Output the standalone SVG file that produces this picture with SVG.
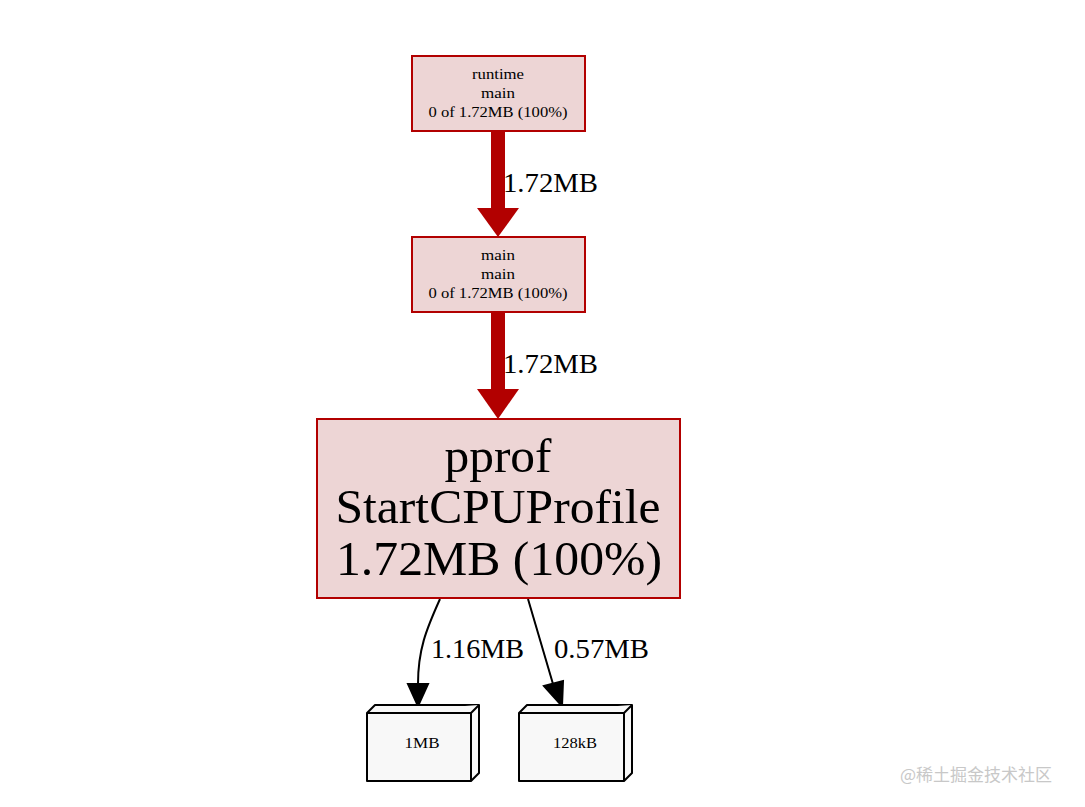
<svg xmlns="http://www.w3.org/2000/svg" width="1085" height="807" viewBox="0 0 1085 807">
<style>
.n{fill:#edd5d5;stroke:#b20000;stroke-width:2}
.t{font-family:"Liberation Serif",serif;text-anchor:middle;fill:#000}
.s{font-size:15px}
.g{font-size:48px}
.l{font-family:"Liberation Serif",serif;font-size:27px;fill:#000}
.b{fill:#f8f8f8;stroke:#000;stroke-width:2;stroke-linejoin:round}
</style>
<rect width="1085" height="807" fill="#fff"/>
<g id="connectors">
  <g id="e1">
    <line x1="498" y1="131" x2="498" y2="210" stroke="#b20000" stroke-width="14"/>
    <polygon points="477,208 519,208 498,237" fill="#b20000"/>
    <text class="l" x="503" y="192" textLength="95" lengthAdjust="spacingAndGlyphs">1.72MB</text>
  </g>
  <g id="e2">
    <line x1="498" y1="312" x2="498" y2="391" stroke="#b20000" stroke-width="14"/>
    <polygon points="477,389 519,389 498,419" fill="#b20000"/>
    <text class="l" x="503" y="373" textLength="95" lengthAdjust="spacingAndGlyphs">1.72MB</text>
  </g>
  <g id="e3">
    <path d="M440,599 C426,630 418,650 418,684" fill="none" stroke="#000" stroke-width="2"/>
    <polygon points="408,684 428,684 418,706" fill="#000" stroke="#000" stroke-width="2"/>
    <text class="l" x="431" y="658" textLength="93" lengthAdjust="spacingAndGlyphs">1.16MB</text>
  </g>
  <g id="e4">
    <path d="M528,599 L553,684" fill="none" stroke="#000" stroke-width="2"/>
    <polygon points="544,686 563,681 562,706" fill="#000" stroke="#000" stroke-width="2"/>
    <text class="l" x="554" y="658" textLength="95" lengthAdjust="spacingAndGlyphs">0.57MB</text>
  </g>
</g>
<g id="node-runtime-main">
  <rect class="n" x="412" y="56" width="173" height="75"/>
  <text class="t s" x="498" y="79" textLength="52" lengthAdjust="spacingAndGlyphs">runtime</text>
  <text class="t s" x="498" y="98" textLength="34" lengthAdjust="spacingAndGlyphs">main</text>
  <text class="t s" x="498" y="117" textLength="139" lengthAdjust="spacingAndGlyphs">0 of 1.72MB (100%)</text>
</g>
<g id="node-main-main">
  <rect class="n" x="412" y="237" width="173" height="75"/>
  <text class="t s" x="498" y="260" textLength="34" lengthAdjust="spacingAndGlyphs">main</text>
  <text class="t s" x="498" y="279" textLength="34" lengthAdjust="spacingAndGlyphs">main</text>
  <text class="t s" x="498" y="298" textLength="139" lengthAdjust="spacingAndGlyphs">0 of 1.72MB (100%)</text>
</g>
<g id="node-pprof">
  <rect class="n" x="317" y="419" width="363" height="179"/>
  <text class="t g" x="498" y="472" textLength="107" lengthAdjust="spacingAndGlyphs">pprof</text>
  <text class="t g" x="498" y="523" textLength="325" lengthAdjust="spacingAndGlyphs">StartCPUProfile</text>
  <text class="t g" x="499" y="575" textLength="326" lengthAdjust="spacingAndGlyphs">1.72MB (100%)</text>
</g>
<g id="node-1MB">
  <path class="b" d="M367,713 L375,705 L479,705 L479,773 L471,781 L367,781 Z"/>
  <path class="b" fill="none" d="M367,713 L471,713 L479,705 M471,713 L471,781"/>
  <text class="t s" x="422" y="748" textLength="35" lengthAdjust="spacingAndGlyphs">1MB</text>
</g>
<g id="node-128kB">
  <path class="b" d="M519,713 L527,705 L632,705 L632,773 L624,781 L519,781 Z"/>
  <path class="b" fill="none" d="M519,713 L624,713 L632,705 M624,713 L624,781"/>
  <text class="t s" x="575" y="748" textLength="44" lengthAdjust="spacingAndGlyphs">128kB</text>
</g>
<text x="900" y="781" font-family="'Noto Sans CJK SC',sans-serif" font-size="17" fill="#c8c8c8">@稀土掘金技术社区</text>
</svg>
